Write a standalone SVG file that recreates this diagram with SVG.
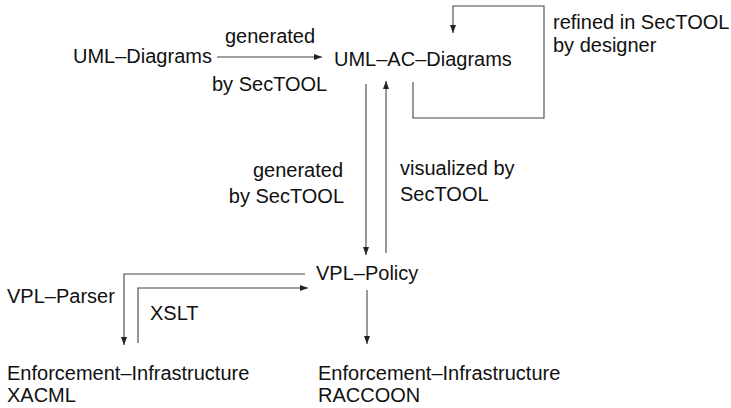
<svg xmlns="http://www.w3.org/2000/svg" width="731" height="408" viewBox="0 0 731 408">
<style>
text{font-family:"Liberation Sans",Arial,sans-serif;font-size:20px;fill:#111}
.c{fill:none;stroke:#444;stroke-width:1.1}
</style>
<defs>
<marker id="ah" markerUnits="userSpaceOnUse" markerWidth="8" markerHeight="6" refX="8" refY="3" orient="auto">
<path d="M0,0 L8,3 L0,6 z" fill="#222"/>
</marker>
</defs>
<rect width="731" height="408" fill="#fff"/>
<g id="connectors">
<line class="c" x1="217" y1="57" x2="322" y2="57" marker-end="url(#ah)"/>
<path class="c" d="M413,82 V118 H544 V6 H453 V33" marker-end="url(#ah)"/>
<line class="c" x1="366" y1="84" x2="366" y2="255" marker-end="url(#ah)"/>
<line class="c" x1="386" y1="253" x2="386" y2="81" marker-end="url(#ah)"/>
<path class="c" d="M305,274 H124 V345" marker-end="url(#ah)"/>
<path class="c" d="M138,343 V288 H308" marker-end="url(#ah)"/>
<line class="c" x1="367" y1="290" x2="367" y2="344" marker-end="url(#ah)"/>
</g>
<g id="labels">
<text x="225" y="43">generated</text>
<text x="212" y="91">by SecTOOL</text>
<text x="553" y="29">refined in SecTOOL</text>
<text x="553" y="52">by designer</text>
<text x="343" y="177" text-anchor="end">generated</text>
<text x="344" y="203" text-anchor="end">by SecTOOL</text>
<text x="400" y="175">visualized by</text>
<text x="400" y="201">SecTOOL</text>
<text x="7" y="303">VPL–Parser</text>
<text x="150" y="320">XSLT</text>
</g>
<g id="uml-diagrams"><text x="73" y="63">UML–Diagrams</text></g>
<g id="uml-ac-diagrams"><text x="334" y="66">UML–AC–Diagrams</text></g>
<g id="vpl-policy"><text x="316" y="280">VPL–Policy</text></g>
<g id="xacml"><text x="7" y="380">Enforcement–Infrastructure</text><text x="7" y="402">XACML</text></g>
<g id="raccoon"><text x="318" y="380">Enforcement–Infrastructure</text><text x="318" y="402">RACCOON</text></g>
</svg>
